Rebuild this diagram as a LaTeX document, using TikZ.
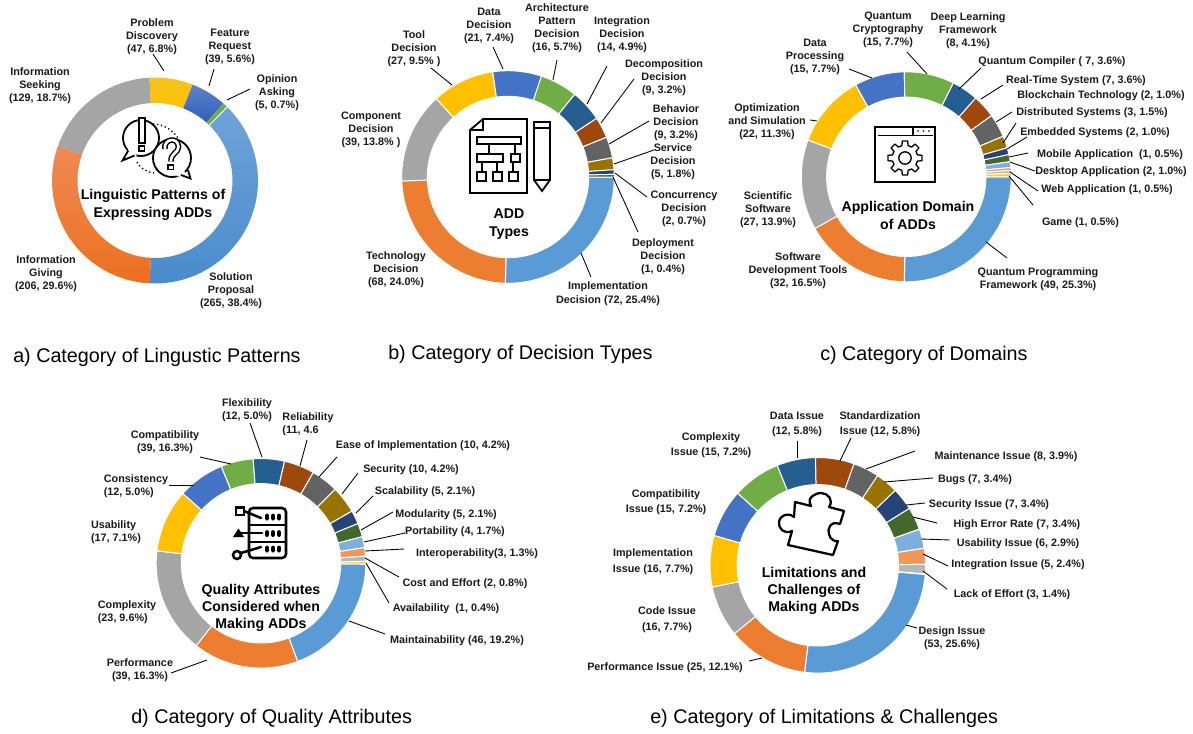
\documentclass[tikz,border=0pt]{standalone}
\usepackage{fontspec}
\setmainfont{Liberation Sans}
\definecolor{c1}{HTML}{5B9BD5}
\definecolor{c2}{HTML}{ED7D31}
\definecolor{c3}{HTML}{A5A5A5}
\definecolor{c4}{HTML}{FFC000}
\definecolor{c5}{HTML}{4472C4}
\definecolor{c6}{HTML}{70AD47}
\definecolor{c7}{HTML}{255E91}
\definecolor{c8}{HTML}{9E480E}
\definecolor{c9}{HTML}{636363}
\definecolor{c10}{HTML}{997300}
\definecolor{c11}{HTML}{264478}
\definecolor{c12}{HTML}{43682B}
\definecolor{c13}{HTML}{7CAFDD}
\definecolor{c14}{HTML}{F1975A}
\definecolor{c15}{HTML}{B7B7B7}
\definecolor{c16}{HTML}{FFCD33}
\definecolor{txt}{HTML}{1A1A1A}
\definecolor{g1t}{HTML}{6FA3D8}
\definecolor{g1b}{HTML}{4A8BCC}
\definecolor{g2t}{HTML}{EE8A55}
\definecolor{g2b}{HTML}{EC7020}
\definecolor{g4t}{HTML}{F5C420}
\definecolor{g4b}{HTML}{FFC000}
\definecolor{g5t}{HTML}{5E82CC}
\definecolor{g5b}{HTML}{2F5FB8}
\tikzset{
  s1/.style={fill=c1},s2/.style={fill=c2},s3/.style={fill=c3},s4/.style={fill=c4},
  s5/.style={fill=c5},s6/.style={fill=c6},s7/.style={fill=c7},s8/.style={fill=c8},
  s9/.style={fill=c9},s10/.style={fill=c10},s11/.style={fill=c11},s12/.style={fill=c12},
  s13/.style={fill=c13},s14/.style={fill=c14},s15/.style={fill=c15},s16/.style={fill=c16},
  g1/.style={top color=g1t,bottom color=g1b},
  g2/.style={top color=g2t,bottom color=g2b},
  g4/.style={top color=g4t,bottom color=g4b},
  g5/.style={top color=g5t,bottom color=g5b},
  segline/.style={draw=white,line width=.75pt},
  lab/.style={inner sep=0pt,yshift=-1.1pt,align=center,text=txt,font=\bfseries\fontsize{8.1}{9.75}\selectfont},
  labl/.style={lab,align=left},
  ctitle/.style={inner sep=0pt,yshift=-1.1pt,align=center,text=black,font=\bfseries\fontsize{10.6}{13.5}\selectfont},
  capt/.style={inner sep=0pt,anchor=west,yshift=-2pt,text=black,font=\fontsize{14.8}{17}\selectfont},
  leaderline/.style={draw=black,line width=.65pt},
  iconline/.style={draw=black,line width=1.35pt,line join=miter},
}
\newcommand\donut[6]{%
  \begin{scope}[shift={(#1,#2)},yscale=-1]
  \xdef\segstart{#5}%
  \foreach \seg/\pct in {#6} {%
    \pgfmathsetmacro\segend{\segstart-3.6*\pct}%
    \path[\seg,segline] (\segstart:#3) arc[start angle=\segstart,end angle=\segend,radius=#3]
       -- (\segend:#4) arc[start angle=\segend,end angle=\segstart,radius=#4] -- cycle;
    \xdef\segstart{\segend}%
  }
  \end{scope}}
\newcommand\lbl[4]{\node[lab] (#1) at (#2,#3) {#4};}
\newcommand\lbll[4]{\node[labl] (#1) at (#2,#3) {#4};}
\newcommand\ldr[5]{\coordinate (#1-s) at (#2,#3); \coordinate (#1-e) at (#4,#5); \draw[leaderline] (#1-s) -- (#1-e);}
\begin{document}
\begin{tikzpicture}[x=.75pt,y=-.75pt]
\useasboundingbox (0,0) rectangle (1193,733);

% ---------- a
\begin{scope}[segline/.style={draw=none}]
\donut{155}{180.5}{103}{77.5}{45.2}{g1/38.4,g2/29.6,s3/18.7,g4/6.8,g5/5.6,s6/.7}
\end{scope}
\lbl{a1}{152}{35}{Problem\\Discovery\\(47, 6.8\%)}
\lbl{a2}{230}{45}{Feature\\Request\\(39, 5.6\%)}
\lbl{a3}{277}{91}{Opinion\\Asking\\(5, 0.7\%)}
\lbl{a4}{40}{84}{Information\\Seeking\\(129, 18.7\%)}
\lbl{a5}{46}{272}{Information\\Giving\\(206, 29.6\%)}
\lbl{a6}{231}{289}{Solution\\Proposal\\(265, 38.4\%)}
\ldr{la1}{153}{54}{164}{71}
\ldr{la2}{214}{69}{209}{86}
\ldr{la3}{250}{89}{227}{100}
\node[ctitle] (at) at (153,203) {Linguistic Patterns of\\Expressing ADDs};
% icon a
\draw[iconline,fill=white] (141,138) circle (18);
\fill[white] (129,148) -- (122.5,160) -- (137,155.5) -- cycle;
\draw[iconline] (128.3,150.5) -- (122.5,160.5) -- (134.5,155.5);
\draw[iconline,line width=1pt,dotted] (153,124) .. controls (162,124) and (172,129) .. (178,138);
\draw[iconline,line width=1pt,dotted] (137,162) .. controls (140,168) and (146,172) .. (154,173);
\draw[iconline,fill=white] (172,158) circle (19);
\fill[white] (184,171) -- (190.5,178.5) -- (176,176) -- cycle;
\draw[iconline] (188,170) -- (190.5,178.5) -- (181,175);
\draw[iconline,line width=1.1pt,fill=white] (139,118) rectangle (145,143);
\draw[iconline,line width=1.1pt,fill=white] (139,146) rectangle (144.5,151);
\draw[draw=black,line width=4.2pt,line cap=butt] (165,149) .. controls (163,139) and (178,136) .. (178.5,147) .. controls (178.5,153) and (170.5,153) .. (171,161.5);
\draw[draw=white,line width=2pt,line cap=butt] (165,149) .. controls (163,139) and (178,136) .. (178.5,147) .. controls (178.5,153) and (170.5,153) .. (171,161.5);
\draw[iconline,line width=1.1pt,fill=white] (168,165) rectangle (173.5,169.5);

% ---------- b
\donut{508}{177}{106.3}{80.7}{0}{s1/25.4,s2/24.0,s3/13.8,s4/9.5,s5/7.4,s6/5.7,s7/4.9,s8/3.2,s9/3.2,s10/1.8,s11/.7,s12/.4}
\lbl{b1}{414}{47}{Tool\\Decision\\(27, 9.5\% )}
\lbl{b2}{489}{24}{Data\\Decision\\(21, 7.4\%)}
\lbl{b3}{557}{27}{Architecture\\Pattern\\Decision\\(16, 5.7\%)}
\lbl{b4}{622}{33}{Integration\\Decision\\(14, 4.9\%)}
\lbl{b5}{664}{76}{Decomposition\\Decision\\(9, 3.2\%)}
\lbl{b6}{676}{121}{Behavior\\Decision\\(9, 3.2\%)}
\lbl{b7}{673}{160}{Service\\Decision\\(5, 1.8\%)}
\lbl{b8}{684}{207}{Concurrency\\Decision\\(2, 0.7\%)}
\lbl{b9}{663}{255}{Deployment\\Decision\\(1, 0.4\%)}
\node[lab,font=\bfseries\fontsize{8.1}{10.2}\selectfont] (b10) at (608,292) {Implementation\\Decision (72, 25.4\%)};
\lbl{b11}{396}{268}{Technology\\Decision\\(68, 24.0\%)}
\lbl{b12}{371}{128}{Component\\Decision\\(39, 13.8\% )}
\ldr{lb1}{431}{68}{452}{85}
\ldr{lb2}{493}{47}{503}{69}
\ldr{lb3}{557}{60}{553}{80}
\ldr{lb4}{607}{66}{587}{104}
\ldr{lb5}{634}{79}{601}{123}
\ldr{lb6}{649}{121}{609}{144}
\ldr{lb7}{654}{150}{614}{164}
\ldr{lb8}{647}{197}{615}{173}
\ldr{lb9}{638}{232}{613}{177}
\ldr{lb10}{591}{277}{581}{253}
\node[ctitle] (bt) at (509,223) {ADD\\Types};
% icon b
\draw[iconline] (483,119) -- (527,119) -- (527,193) -- (470,193) -- (470,130) -- cycle;
\draw[iconline] (470,130) -- (483,130) -- (483,119);
\draw[iconline] (477,137) rectangle (521,144);
\draw[iconline] (477,154) rectangle (503,162);
\draw[iconline] (511,154) rectangle (520,162);
\draw[iconline] (477,172) rectangle (486,181);
\draw[iconline] (493,172) rectangle (502,181);
\draw[iconline] (509,172) rectangle (518,181);
\draw[iconline] (489,144) -- (489,154);
\draw[iconline] (515,144) -- (515,154);
\draw[iconline] (482,162) -- (482,172);
\draw[iconline] (497,162) -- (497,172);
\draw[iconline] (513,162) -- (513,172);
\draw[iconline] (534,122) rectangle (550,180);
\draw[iconline] (534,128) -- (550,128);
\draw[iconline] (534,180) -- (542,191) -- (550,180);

% ---------- c
\donut{906.3}{176.8}{105}{79.7}{0}{s1/25.3,s2/16.5,s3/13.9,s4/11.3,s5/7.7,s6/7.7,s7/4.1,s8/3.6,s9/3.6,s10/1.85,s11/1.05,s12/1.1,s13/.9,s14/.45,s15/.45,s16/.5}
\lbl{c1}{888}{28}{Quantum\\Cryptography\\(15, 7.7\%)}
\lbl{c2}{968}{29}{Deep Learning\\Framework\\(8, 4.1\%)}
\lbl{c3}{1052}{60}{Quantum Compiler ( 7, 3.6\%)}
\lbl{c4}{1076}{79}{Real-Time System (7, 3.6\%)}
\lbl{c5}{1101}{94}{Blockchain Technology (2, 1.0\%)}
\lbl{c6}{1092}{111}{Distributed Systems (3, 1.5\%)}
\lbl{c7}{1095}{131}{Embedded Systems (2, 1.0\%)}
\lbl{c8}{1110}{153}{Mobile Application~~(1, 0.5\%)}
\lbl{c9}{1111}{170}{Desktop Application (2, 1.0\%)}
\lbl{c10}{1107}{188}{Web Application (1, 0.5\%)}
\lbl{c11}{1080.5}{221}{Game (1, 0.5\%)}
\lbl{c12}{1038}{278}{Quantum Programming\\Framework (49, 25.3\%)}
\lbl{c13}{798}{269}{Software\\Development Tools\\(32, 16.5\%)}
\lbl{c14}{768}{208}{Scientific\\Software\\(27, 13.9\%)}
\lbl{c15}{767}{120}{Optimization\\and Simulation\\(22, 11.3\%)}
\lbl{c16}{815}{55}{Data\\Processing\\(15, 7.7\%)}
\ldr{lc1}{849}{69}{872}{78}
\ldr{lc2}{907}{52}{927}{74}
\ldr{lc3}{981}{68}{959}{89}
\ldr{lc4}{1003}{85}{981}{99}
\ldr{lc5}{1012}{112}{996}{122}
\ldr{lc6}{1016}{123}{1003}{143}
\ldr{lc7}{1027}{137}{1007}{149}
\ldr{lc8}{1028}{153}{1009}{157}
\ldr{lc9}{1035}{171}{1010}{162}
\ldr{lc10}{1038}{191}{1010}{172}
\ldr{lc11}{1033}{205}{1009}{176}
\ldr{lc12}{1007}{258}{986}{242}
\ldr{lc13}{817}{121}{810}{120}
\node[ctitle] (ct) at (908,214) {Application Domain\\of ADDs};
% icon c
\draw[iconline] (875,127) rectangle (935,182);
\draw[iconline] (878,135.5) -- (933,135.5);
\draw[iconline] (913,127) -- (913,135.5);
\foreach \dx in {918,923.5,929} \fill[black] (\dx,131) circle (.9);
\draw[iconline,line width=1pt,line join=round,shift={(905,158)}] (-9:17.2) \foreach \i in {0,...,7} { -- ({\i*45-9}:17.2) -- ({\i*45+9}:17.2) -- ({\i*45+14}:12.8) -- ({\i*45+31}:12.8) } -- cycle;
\draw[iconline,line width=1pt] (905,158) circle (6.2);

% ---------- d
\donut{261}{563.3}{104.8}{79.7}{-.4}{s1/19.2,s2/16.3,s3/16.3,s4/9.7,s5/7.2,s6/5.0,s7/4.8,s8/4.7,s9/4.2,s10/4.2,s11/2.1,s12/2.1,s13/1.7,s14/1.3,s15/.8,s16/.4}
\lbl{d1}{247}{409}{Flexibility\\(12, 5.0\%)}
\lbll{d2}{308}{423}{Reliability\\(11, 4.6}
\lbl{d3}{423}{444}{Ease of Implementation (10, 4.2\%)}
\lbl{d4}{411}{468}{Security (10, 4.2\%)}
\lbl{d5}{425}{490}{Scalability (5, 2.1\%)}
\lbl{d6}{446}{513}{Modularity (5, 2.1\%)}
\lbl{d7}{455}{530}{Portability (4, 1.7\%)}
\lbl{d8}{477}{552}{Interoperability(3, 1.3\%)}
\lbl{d9}{465}{582}{Cost and Effort (2, 0.8\%)}
\lbl{d10}{446}{607}{Availability~~(1, 0.4\%)}
\lbl{d11}{457}{639}{Maintainability (46, 19.2\%)}
\lbl{d12}{140}{669}{Performance\\(39, 16.3\%)}
\lbll{d13}{127}{611}{Complexity\\(23, 9.6\%)}
\lbll{d14}{116}{531}{Usability\\(17, 7.1\%)}
\lbll{d15}{136}{485}{Consistency\\(12, 5.0\%)}
\lbl{d16}{165}{441}{Compatibility\\(39, 16.3\%)}
\ldr{ld1}{250}{423}{262}{457}
\ldr{ld2}{307}{440}{300}{466}
\ldr{ld3}{337}{457}{319}{477}
\ldr{ld4}{358}{473}{342}{494}
\ldr{ld5}{373}{496}{356}{513}
\ldr{ld6}{393}{512}{361}{530}
\ldr{ld7}{405}{533}{364}{542}
\ldr{ld8}{404}{549}{365}{551}
\ldr{ld9}{399}{577}{365}{558}
\ldr{ld10}{389}{603}{366}{563}
\ldr{ld11}{385}{634}{349}{621}
\ldr{ld12}{171}{673}{207}{660}
\ldr{ld13}{200}{457}{231}{464}
\ldr{ld14}{169}{485}{194}{485}
\node[ctitle,font=\bfseries\fontsize{10.6}{12.8}\selectfont] (dt) at (261,606) {Quality Attributes\\Considered when\\Making ADDs};
% icon d
\draw[iconline,line width=1.9pt,rounded corners=3] (249,508) rectangle (286,558);
\draw[iconline,line width=1.9pt] (249,525) -- (286,525);
\draw[iconline,line width=1.9pt] (249,542) -- (286,542);
\foreach \yy in {517,533.5,549} \foreach \xx in {267,273,279} \fill[black,rounded corners=1.5] (\xx-1.9,\yy-3.5) rectangle (\xx+1.9,\yy+3.5);
\draw[iconline,line width=1.9pt] (236,507.5) rectangle (244,515);
\draw[iconline,line width=1.9pt,line cap=round] (244,511) -- (261,518);
\fill[black] (233,537) -- (238.5,528.5) -- (244,537) -- cycle;
\draw[iconline,line width=1.9pt,line cap=round] (240,533) -- (262,533);
\draw[iconline,line width=1.9pt] (237,555) circle (4);
\draw[iconline,line width=1.9pt,line cap=round] (241,553) -- (261,547);

% ---------- e
\donut{817.8}{565.3}{107.8}{80.7}{-4.9}{s1/25.6,s2/12.1,s3/7.7,s4/7.7,s5/7.2,s6/7.2,s7/5.8,s8/5.8,s9/3.9,s10/3.4,s11/3.4,s12/3.4,s13/2.9,s14/2.4,s15/1.4}
\tikzset{wide/.style={lab,font=\bfseries\fontsize{8.1}{11.25}\selectfont}}
\node[wide] (e1) at (797,423) {Data Issue\\(12, 5.8\%)};
\node[wide] (e2) at (880,423) {Standardization\\Issue (12, 5.8\%)};
\lbl{e3}{1006}{455}{Maintenance Issue (8, 3.9\%)}
\lbl{e4}{975}{478}{Bugs (7, 3.4\%)}
\lbl{e5}{989}{503}{Security Issue (7, 3.4\%)}
\lbl{e6}{1017}{523}{High Error Rate (7, 3.4\%)}
\lbl{e7}{1018}{542}{Usability Issue (6, 2.9\%)}
\lbl{e8}{1018}{563}{Integration Issue (5, 2.4\%)}
\lbl{e9}{1012}{593}{Lack of Effort (3, 1.4\%)}
\lbl{e10}{952}{637}{Design Issue\\(53, 25.6\%)}
\lbl{e11}{665}{666}{Performance Issue (25, 12.1\%)}
\node[wide,font=\bfseries\fontsize{8.1}{12}\selectfont] (e12) at (667,618) {Code Issue\\(16, 7.7\%)};
\node[wide,font=\bfseries\fontsize{8.1}{12}\selectfont] (e13) at (653,560) {Implementation\\Issue (16, 7.7\%)};
\node[wide] (e14) at (666,501) {Compatibility\\Issue (15, 7.2\%)};
\node[wide] (e15) at (711,444) {Complexity\\Issue (15, 7.2\%)};
\ldr{le1}{797}{441}{797}{458}
\ldr{le2}{851}{438}{840}{461}
\ldr{le3}{915}{451}{866}{469}
\ldr{le4}{933}{478}{884}{482}
\ldr{le5}{925}{503}{906}{505}
\ldr{le6}{937}{523}{913}{517}
\ldr{le7}{950}{540}{921}{539}
\ldr{le8}{948}{566}{923}{554}
\ldr{le9}{947}{589}{923}{571}
\ldr{le10}{917}{628}{906}{625}
\ldr{le11}{749}{661}{762}{658}
\node[ctitle,font=\bfseries\fontsize{10.6}{12.8}\selectfont] (et) at (814,589) {Limitations and\\Challenges of\\Making ADDs};
% icon e
\draw[iconline,line width=1.7pt,line join=round] (795,502) -- (811,506) .. controls (806,497) and (816,493) .. (821,493) .. controls (828,493) and (834,500) .. (829,507) -- (844,511) -- (840,524) .. controls (830,520) and (827,530) .. (829,534) .. controls (830,540) and (836,542) .. (838,541) -- (833,555) -- (788,545) -- (792,531) .. controls (784,535) and (778,528) .. (779,522) .. controls (780,515) and (788,512) .. (794,517) -- cycle;

% ---------- captions
\node[capt] (capa) at (13,355) {a) Category of Lingustic Patterns};
\node[capt] (capb) at (388,352) {b) Category of Decision Types};
\node[capt] (capc) at (820,353) {c) Category of Domains};
\node[capt] (capd) at (131,716) {d) Category of Quality Attributes};
\node[capt] (cape) at (650,716) {e) Category of Limitations \& Challenges};
\end{tikzpicture}
\end{document}
